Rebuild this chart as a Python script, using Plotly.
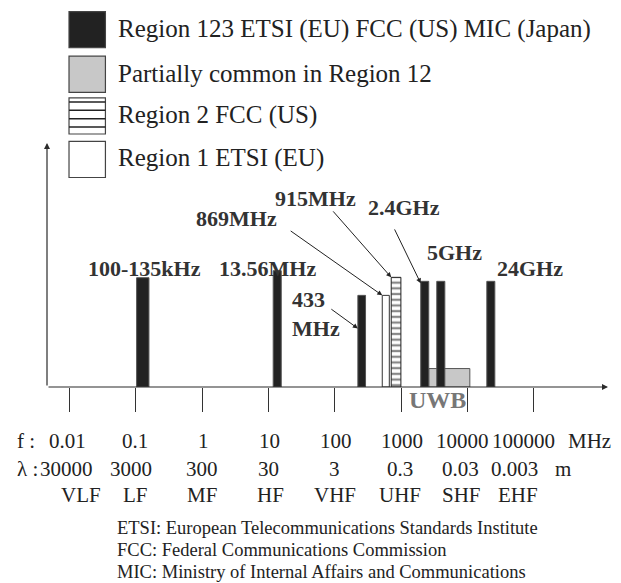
import numpy as np
import plotly.graph_objects as go

# ---------------- data ----------------
# band edges in MHz as drawn (schematic), and bar heights (arbitrary units)
band_labels = ["100-135kHz", "13.56MHz", "433MHz", "869MHz", "915MHz",
               "2.4GHz", "5GHz", "24GHz", "UWB"]
band_lo_mhz = [0.103, 11.8, 223, 520, 710, 1977, 3451, 19600, 2612]
band_hi_mhz = [0.158, 15.6, 291, 664, 993, 2612, 4563, 25880, 10870]
band_height = [109, 116, 91.4, 91.4, 109.4, 105.4, 105.4, 105.4, 18.4]
band_group = ["all", "all", "all", "r1", "r2", "all", "all", "all", "part"]

tick_freq_mhz = [0.01, 0.1, 1, 10, 100, 1000, 10000, 100000]
freq_labels = ["0.01", "0.1", "1", "10", "100", "1000", "10000", "100000"]
wave_labels = ["30000", "3000", "300", "30", "3", "0.3", "0.03", "0.003"]
band_names = ["VLF", "LF", "MF", "HF", "VHF", "UHF", "SHF", "EHF"]

legend_labels = ["Region 123 ETSI (EU) FCC (US) MIC (Japan)",
                 "Partially common in Region 12",
                 "Region 2 FCC (US)",
                 "Region 1 ETSI (EU)"]
notes = ["ETSI: European Telecommunications Standards Institute",
         "FCC: Federal Communications Commission",
         "MIC: Ministry of Internal Affairs and Communications"]

# ---------------- layout constants (screen px; page body has 8px margin) ----------------
OFF = 8
PL, PR, PT, PB = 47.3, 608.0, 143.3, 386.7   # plot area on screen
FW, FH = 621 - OFF, 583 - OFF
XMIN, XMAX = -2.338, 6.119
YMAX = PB - PT  # 1 unit = 1 px


def sx(px):
    return (px - PL) / (PR - PL)


def sy(py):
    return (PB - py) / (PB - PT)


def dx(v):  # decade value -> paper x
    return (v - XMIN) / (XMAX - XMIN)


SERIF = "Liberation Serif, Times New Roman, serif"
DARK = "#2b2b2b"

lo = np.log10(band_lo_mhz)
hi = np.log10(band_hi_mhz)
cen = (lo + hi) / 2
wid = hi - lo

fig = go.Figure()

styles = {
    "part": dict(color="#c8c8c8", line=dict(color="#555555", width=1)),
    "all": dict(color="#222222", line=dict(color="#555555", width=1)),
    "r1": dict(color="white", line=dict(color="#333333", width=1)),
    "r2": dict(color="white", line=dict(color="#222222", width=1),
               pattern=dict(shape="-", size=5.7, solidity=0.4,
                            fgcolor="#111111", bgcolor="white", fillmode="overlay")),
}
for g in ["part", "all", "r1", "r2"]:
    idx = [i for i, gg in enumerate(band_group) if gg == g]
    fig.add_trace(go.Bar(
        x=[cen[i] for i in idx], y=[band_height[i] for i in idx],
        width=[wid[i] for i in idx], base=0,
        marker=styles[g], showlegend=False, hoverinfo="skip",
    ))

ann = []
# axis arrows
ann.append(dict(x=XMAX, y=0, ax=XMIN, ay=0, xref="x", yref="y", axref="x", ayref="y",
                showarrow=True, arrowhead=2, arrowsize=1, arrowwidth=1.2,
                arrowcolor=DARK, text=""))
ann.append(dict(x=XMIN, y=YMAX, ax=XMIN, ay=0, xref="x", yref="y", axref="x", ayref="y",
                showarrow=True, arrowhead=2, arrowsize=1, arrowwidth=1.2,
                arrowcolor=DARK, text=""))

# band labels (bold)
lab_font = dict(family=SERIF, size=22, color="#333333")
lab_pos = {  # (x in decades, y in units, xanchor)
    "100-135kHz": (-0.864, 118.7, "center"),
    "13.56MHz": (0.991, 118.7, "center"),
    "869MHz": (0.526, 167.7, "center"),
    "915MHz": (1.717, 187.7, "center"),
    "2.4GHz": (3.04, 178.7, "center"),
    "5GHz": (3.81, 133.7, "center"),
    "24GHz": (4.94, 118.7, "center"),
}
for t, (x, y, xa) in lab_pos.items():
    ann.append(dict(x=x, y=y, xref="x", yref="y", text="<b>%s</b>" % t, showarrow=False,
                    font=lab_font, xanchor=xa, yanchor="middle"))
ann.append(dict(x=1.323, y=72.7, xref="x", yref="y", text="<b>433<br>MHz</b>", showarrow=False,
                font=lab_font, xanchor="left", yanchor="middle", align="left"))
ann.append(dict(x=dx(3.556), y=sy(400), xref="paper", yref="paper", text="<b>UWB</b>",
                showarrow=False, font=dict(family=SERIF, size=24, color="#777777"),
                xanchor="center", yanchor="middle"))


# pointer arrows (tip -> tail), tips at bar tops
def arrow(tip_x, tip_y, tail_x, tail_y):
    ann.append(dict(x=tip_x, y=tip_y, ax=tail_x, ay=tail_y, xref="x", yref="y",
                    axref="x", ayref="y", showarrow=True, arrowhead=2, arrowsize=1,
                    arrowwidth=1, arrowcolor="#222222", text=""))


arrow(lo[3], band_height[3], 1.313, 156.7)      # 869
arrow(lo[4], band_height[4], 1.956, 176.7)      # 915
arrow(lo[5], band_height[5] - 2, 2.891, 158.7)  # 2.4G
arrow(lo[2], 58.4, 1.926, 78.7)                 # 433

# bottom rows
row_font = dict(family=SERIF, size=21, color="#222222")
f_shift = [-2, -1, 1, 1, 1, 1, -5, -10]
w_shift = [-3, -5, 0, 0, 0, -1, -7, -19]
b_shift = [12, 0, 0, 2, 0, -1, -6, -16]


def row_text(x, py, text, xanchor="center", xshift=0):
    ann.append(dict(x=x, y=sy(py), xref="paper", yref="paper", text=text, showarrow=False,
                    font=row_font, xanchor=xanchor, yanchor="middle", xshift=xshift))


for i, v in enumerate(np.log10(tick_freq_mhz)):
    row_text(dx(v), 441, freq_labels[i], xshift=f_shift[i])
    row_text(dx(v), 468, wave_labels[i], xshift=w_shift[i])
    row_text(dx(v), 494, band_names[i], xshift=b_shift[i])
row_text(dx(5), 441, "MHz", xanchor="left", xshift=32)
row_text(dx(5), 468, "m", xanchor="left", xshift=19)
row_text(dx(-2), 441, "f :", xanchor="right", xshift=-32)
row_text(dx(-2), 468, "λ :", xanchor="right", xshift=-29)

# notes
for i, t in enumerate(notes):
    ann.append(dict(x=sx(115), y=sy(527 + 22 * i), xref="paper", yref="paper",
                    text=t, showarrow=False, xanchor="left", yanchor="middle",
                    font=dict(family=SERIF, size=18.5, color="#222222")))

# legend (drawn manually)
shapes = []
box_top = [12.3, 56.7, 98.3, 141.7]
box_fill = ["#222222", "#c8c8c8", "white", "white"]
for i, lab in enumerate(legend_labels):
    y0 = box_top[i]
    y1 = y0 + 36
    shapes.append(dict(type="rect", xref="paper", yref="paper",
                       x0=sx(69.3), x1=sx(105.7), y0=sy(y1), y1=sy(y0),
                       fillcolor=box_fill[i], line=dict(color="#444444", width=1.2)))
    if i == 2:
        for yy in [102.3, 110.7, 119, 127.3]:
            shapes.append(dict(type="line", xref="paper", yref="paper",
                               x0=sx(69.3), x1=sx(105.7), y0=sy(yy), y1=sy(yy),
                               line=dict(color="#222222", width=1.5)))
    ann.append(dict(x=sx(116), y=sy(y0 + 17), xref="paper", yref="paper",
                    text=lab, showarrow=False, xanchor="left", yanchor="middle",
                    font=dict(family=SERIF, size=25, color="#222222")))

fig.update_layout(
    width=FW, height=FH,
    margin=dict(l=PL - OFF, r=FW - (PR - OFF), t=PT - OFF, b=FH - (PB - OFF), pad=0),
    paper_bgcolor="white", plot_bgcolor="white",
    barmode="overlay", showlegend=False,
    xaxis=dict(range=[XMIN, XMAX], showgrid=False, zeroline=False, showline=False,
               tickvals=list(np.log10(tick_freq_mhz)), ticks="outside", ticklen=24,
               tickcolor="#333333", tickwidth=1, showticklabels=False, fixedrange=True),
    yaxis=dict(range=[0, YMAX], visible=False, fixedrange=True),
    annotations=ann, shapes=shapes,
)

fig.write_html("out.html")
